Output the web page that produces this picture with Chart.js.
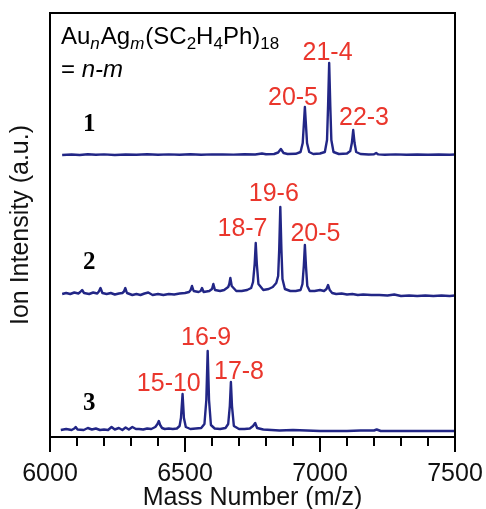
<!DOCTYPE html>
<html>
<head>
<meta charset="utf-8">
<script src="https://cdn.jsdelivr.net/npm/chart.js@4.4.0/dist/chart.umd.min.js"></script>
<style>
html, body { margin: 0; padding: 0; background: #fff; }
#wrap { width: 486px; height: 509px; }
</style>
</head>
<body>
<div id="wrap"><canvas id="ms"></canvas></div>
<script>
// axis range and ticks
var xMin = 6000, xMax = 7500;
var tickStep = 100, labelStep = 500;

// stacking offsets of the three spectra (y units)
var offsets = [282, 143, 7];

// spectra as [m/z, intensity above own baseline]
var spectrum1 = [[6045,0],[6080,0.5],[6110,0],[6140,0.8],[6170,0.2],[6200,0.6],[6240,0],[6280,0.5],[6320,0.2],[6360,0.7],
	[6400,0.3],[6440,0.6],[6480,0.2],[6520,0.8],[6560,0.3],[6600,0.6],[6640,0.5],[6680,0.4],[6720,0.8],[6760,0.5],
	[6785,1.5],[6800,0.8],[6830,1],[6845,2.5],[6855,6],[6865,2],[6880,1],[6910,1.2],[6928,3],[6936,12],
	[6940,30],[6944,48],[6948,30],[6952,12],[6960,3],[6975,1],[7000,1.5],[7018,3],[7026,15],[7030,50],
	[7034,92],[7038,50],[7042,15],[7050,3],[7070,1],[7100,1.5],[7112,4],[7118,12],[7123,25],[7128,12],
	[7134,3],[7150,1],[7180,0.5],[7200,0.8],[7208,2],[7216,0.6],[7240,0.3],[7280,0.6],[7320,0.2],[7360,0.5],
	[7400,0.3],[7440,0.5],[7480,0.2],[7500,0.5]];

var spectrum2 = [[6045,0],[6060,1],[6075,0],[6090,1.5],[6105,0.5],[6112,2],[6119,4],[6126,1],[6145,0],[6160,1.5],
	[6175,0.5],[6181,2.5],[6187,6],[6194,1],[6210,0],[6225,1],[6240,-0.5],[6255,0.5],[6268,1],[6274,2.5],
	[6279,6],[6285,1],[6305,-1],[6320,0],[6335,-1],[6350,0.5],[6364,1.5],[6380,-1],[6400,0],[6420,-1],
	[6440,0],[6460,-0.5],[6480,0.5],[6500,1],[6515,2],[6521,4],[6526,8],[6532,3],[6550,2],[6558,3],
	[6563,6],[6569,2],[6590,3],[6600,5],[6605,10],[6611,4],[6630,3],[6645,4],[6660,7],[6664,10],
	[6668,16],[6673,8],[6690,3],[6710,3],[6730,4],[6745,6],[6752,12],[6758,30],[6762,51],[6766,30],
	[6772,10],[6790,4],[6810,5],[6825,7],[6838,11],[6845,18],[6849,45],[6853,87],[6857,45],[6861,15],
	[6870,5],[6890,3],[6910,3],[6928,4],[6935,10],[6940,28],[6944,49],[6948,28],[6953,8],[6962,3],
	[6980,3],[7000,4],[7015,3],[7024,5],[7030,9],[7036,4],[7045,1],[7060,0],[7080,0.5],[7100,-0.5],
	[7120,0],[7140,-1],[7160,-0.5],[7190,-1],[7220,-1],[7250,-1.5],[7275,-0.5],[7300,-2],[7330,-1.5],[7360,-2],
	[7390,-1.5],[7420,-2],[7450,-1.5],[7480,-2],[7500,-1.5]];

var spectrum3 = [[6040,0],[6060,1],[6080,0],[6090,1.5],[6095,3],[6102,0.5],[6125,0],[6140,2],[6155,0.5],[6170,1.5],
	[6185,0],[6200,0.5],[6215,0],[6228,3],[6240,0.5],[6255,2],[6268,0],[6280,2.5],[6292,0.5],[6305,3],
	[6318,1],[6330,1],[6345,0.5],[6360,1.5],[6375,1],[6390,3],[6398,6],[6403,9],[6408,5],[6415,2],
	[6425,1],[6440,1.5],[6455,1],[6470,1.5],[6480,4],[6485,12],[6491,36],[6496,12],[6503,3],[6520,1],
	[6540,1.5],[6560,2],[6572,6],[6579,30],[6584,79],[6589,30],[6596,5],[6610,1.5],[6630,1],[6650,2],
	[6660,6],[6666,24],[6670,48],[6674,24],[6681,4],[6700,1],[6720,1],[6740,1.5],[6752,4],[6760,7],
	[6767,2],[6790,0.5],[6820,0],[6850,-0.5],[6900,0],[6950,-0.5],[7000,-1],[7100,-1],[7150,-0.5],[7200,-0.5],
	[7210,0.5],[7225,-1],[7300,-1],[7400,-1],[7500,-1]];

// peak labels n-m: text, m/z of label centre, height of label centre
var peakText = ['20-5', '21-4', '22-3', '18-7', '19-6', '20-5', '15-10', '16-9', '17-8'];
var peakMass = [6900, 7028, 7163, 6713, 6829, 6983, 6440, 6578, 6700];
var peakY    = [340, 385, 320, 209, 244, 204, 54, 100, 66];

// sample numbers
var sampleText = ['1', '2', '3'];
var sampleMass = [6145, 6145, 6145];
var sampleY    = [313, 175, 34];

var navy = 'rgb(34,38,134)';
var red = 'rgb(234,54,44)';
var sans = "'Liberation Sans', Arial, Helvetica, sans-serif";

function toPoints(spec, k) {
	return spec.map(function (p) { return {x: p[0], y: offsets[k] + p[1]}; });
}

var decorations = {
	id: 'decorations',
	afterDatasetsDraw: function (chart) {
		var ctx = chart.ctx, a = chart.chartArea, x = chart.scales.x, y = chart.scales.y;
		ctx.save();
		// frame
		ctx.strokeStyle = '#000';
		ctx.lineWidth = 2;
		ctx.strokeRect(a.left, a.top, a.right - a.left, a.bottom - a.top);
		// major / minor ticks
		x.ticks.forEach(function (t) {
			var px = x.getPixelForValue(t.value);
			var len = (t.value % labelStep === 0) ? 15 : 9;
			ctx.beginPath();
			ctx.moveTo(px, a.bottom);
			ctx.lineTo(px, a.bottom + len);
			ctx.stroke();
		});
		// peak labels
		ctx.fillStyle = red;
		ctx.font = '25px ' + sans;
		ctx.textAlign = 'center';
		ctx.textBaseline = 'middle';
		for (var i = 0; i < peakText.length; i++) {
			ctx.fillText(peakText[i], x.getPixelForValue(peakMass[i]), y.getPixelForValue(peakY[i]) + 1);
		}
		// sample numbers
		ctx.fillStyle = '#000';
		ctx.font = "bold 25px 'Liberation Serif', 'Times New Roman', serif";
		for (var j = 0; j < sampleText.length; j++) {
			ctx.fillText(sampleText[j], x.getPixelForValue(sampleMass[j]), y.getPixelForValue(sampleY[j]) + 1);
		}
		// formula: Au_nAg_m(SC2H4Ph)18 = n-m
		var parts = [['Au', 0], ['n', 1], ['Ag', 0], ['m', 1], ['(SC', 0], ['2', 2], ['H', 0], ['4', 2], ['Ph)', 0], ['18', 2]];
		var cx = a.left + 11, base = 44;
		ctx.textAlign = 'left';
		ctx.textBaseline = 'alphabetic';
		parts.forEach(function (p) {
			if (p[1] === 0) ctx.font = '24px ' + sans;
			else if (p[1] === 1) ctx.font = 'italic 17px ' + sans;
			else ctx.font = '17px ' + sans;
			var dy = p[1] === 0 ? 0 : 5;
			ctx.fillText(p[0], cx, base + dy);
			cx += ctx.measureText(p[0]).width + (p[1] === 1 ? 1 : 0);
		});
		ctx.font = '24px ' + sans;
		ctx.fillText('= ', a.left + 11, 77);
		var w = ctx.measureText('= ').width;
		ctx.font = 'italic 24px ' + sans;
		ctx.fillText('n-m', a.left + 11 + w, 77);
		ctx.restore();
	}
};

var lineStyle = {
	borderColor: navy,
	borderWidth: 2.4,
	pointRadius: 0,
	fill: false,
	tension: 0,
	borderJoinStyle: 'round'
};

new Chart(document.getElementById('ms').getContext('2d'), {
	type: 'line',
	data: {
		datasets: [
			Object.assign({label: '1', data: toPoints(spectrum1, 0)}, lineStyle),
			Object.assign({label: '2', data: toPoints(spectrum2, 1)}, lineStyle),
			Object.assign({label: '3', data: toPoints(spectrum3, 2)}, lineStyle)
		]
	},
	options: {
		responsive: true,
		maintainAspectRatio: false,
		animation: false,
		devicePixelRatio: 1,
		layout: { padding: { top: 13, right: 31, left: 0, bottom: 0 } },
		plugins: { legend: { display: false }, tooltip: { enabled: false } },
		scales: {
			x: {
				type: 'linear',
				min: xMin,
				max: xMax,
				afterFit: function (scale) {
					scale.height = 72;
					scale.paddingLeft = 0;
					scale.paddingRight = 0;
				},
				grid: { display: false, drawTicks: false, tickLength: 0 },
				border: { display: false },
				ticks: {
					stepSize: tickStep,
					autoSkip: false,
					maxRotation: 0,
					padding: 22,
					color: '#111',
					font: { family: sans, size: 25 },
					callback: function (v) { return v % labelStep === 0 ? v : ''; }
				},
				title: {
					display: true,
					text: 'Mass Number (m/z)',
					color: '#111',
					font: { family: sans, size: 25, lineHeight: 0.86 },
					padding: { top: 0, bottom: 0 }
				}
			},
			y: {
				min: 0,
				max: 424,
				afterFit: function (scale) { scale.width = 50; },
				grid: { display: false, drawTicks: false },
				border: { display: false },
				ticks: { display: false },
				title: {
					display: true,
					text: 'Ion Intensity (a.u.)',
					color: '#111',
					font: { family: sans, size: 25, lineHeight: 0.86 },
					padding: { top: 10, bottom: 0 }
				}
			}
		}
	},
	plugins: [decorations]
});
</script>
</body>
</html>
